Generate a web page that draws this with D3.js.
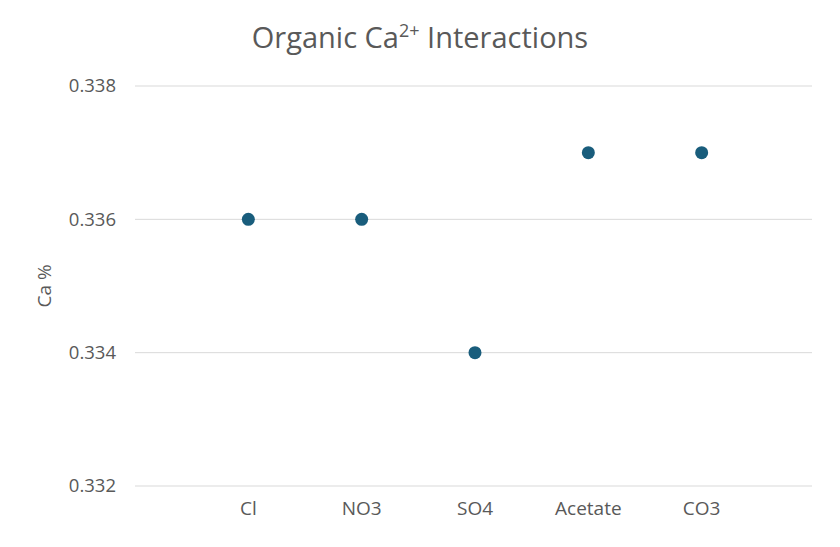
<!DOCTYPE html>
<html><head><meta charset="utf-8">
<script src="https://cdn.jsdelivr.net/npm/d3@7"></script>
<style>body{margin:0;background:#fff}text{font-family:"Open Sans",Lato,sans-serif;fill:#595959}</style>
</head><body><svg id="c" width="840" height="547"></svg>
<script>
const categories = ["Cl","NO3","SO4","Acetate","CO3"];
const values = [0.336,0.336,0.334,0.337,0.337];
const yTicks = [0.332,0.334,0.336,0.338];

const svg = d3.select("#c");
const x = d3.scaleLinear().domain([0,categories.length+1]).range([135,815]);
const y = d3.scaleLinear().domain([0.332,0.338]).range([486,86]);

svg.append("g").selectAll("line").data(yTicks).join("line")
  .attr("x1",135).attr("x2",812).attr("y1",d=>y(d)).attr("y2",d=>y(d))
  .attr("stroke","#d9d9d9").attr("stroke-width",1);
svg.append("g").selectAll("text").data(yTicks).join("text")
  .attr("x",116).attr("y",d=>y(d)).attr("dy","0.35em").attr("text-anchor","end")
  .attr("font-size",18.5).text(d=>d.toFixed(3));
svg.append("g").selectAll("text").data(categories).join("text")
  .attr("x",(d,i)=>x(i+1)).attr("y",515).attr("text-anchor","middle")
  .attr("font-size",19).text(d=>d);
svg.append("g").selectAll("circle").data(values).join("circle")
  .attr("cx",(d,i)=>x(i+1)).attr("cy",d=>y(d)).attr("r",6.5).attr("fill","#195d7c");
svg.append("text").attr("transform","translate(51,286) rotate(-90)")
  .attr("text-anchor","middle").attr("font-size",19).text("Ca %");
const t = svg.append("text").attr("x",420).attr("y",48).attr("text-anchor","middle").attr("font-size",29);
t.append("tspan").text("Organic Ca");
t.append("tspan").attr("font-size",18).attr("dy",-11).text("2+");
t.append("tspan").attr("dy",11).text(" Interactions");
</script></body></html>
